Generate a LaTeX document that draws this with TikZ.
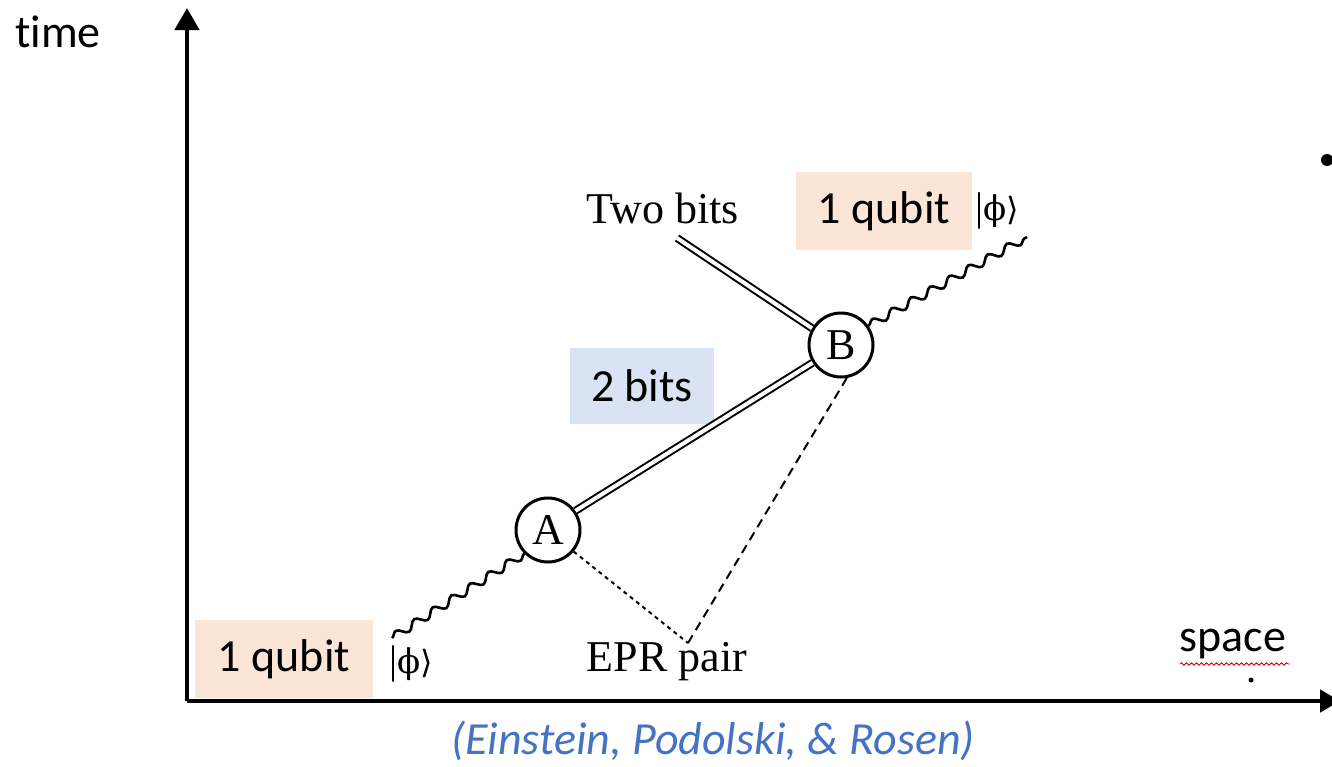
\documentclass[tikz,border=0pt]{standalone}
\usepackage{fontspec}
\setmainfont{Liberation Serif}
\newfontfamily\calfnt[Ligatures=NoCommon]{Carlito}
\newfontfamily\dejfnt{DejaVu Sans}
\newfontfamily\dejser{DejaVu Serif}
\usetikzlibrary{decorations.pathmorphing,arrows.meta}
\definecolor{peach}{HTML}{FBE5D6}
\definecolor{lblue}{HTML}{DAE3F3}
\definecolor{capblue}{HTML}{4472C4}
\newcommand{\ketphi}{|{\dejser\fontsize{34}{34}\selectfont ϕ}{\dejfnt\fontsize{32}{32}\selectfont ⟩}}
\begin{document}
\begin{tikzpicture}[x=1pt,y=-1pt,
  calt/.style={font=\calfnt\fontsize{46}{50}\selectfont, inner sep=0pt},
  sert/.style={font=\fontsize{44}{48}\selectfont, inner sep=0pt},
  ket/.style={font=\fontsize{40}{44}\selectfont, inner sep=0pt},
  party/.style={circle, draw, line width=3pt, minimum size=64pt, inner sep=0pt, font=\fontsize{44}{44}\selectfont},
  wavy/.style={line width=2.6pt, decorate, decoration={snake, amplitude=4pt, segment length=22pt}},
  dbl/.style={double, double distance=4pt, line width=2pt},
  axis/.style={line width=4.5pt}]
\useasboundingbox (0,0) rectangle (1332,766);
% axes
\coordinate (o) at (187,701);
\coordinate (ty) at (187,8);
\coordinate (sx) at (1340,701);
\draw[axis,-{Triangle[length=22pt,width=24pt]}] (o) -- (ty);
\draw[axis,-{Triangle[length=20pt,width=22pt]}] (o) -- (sx);
\node[calt] (time) at (58,32) {time};
\node[calt] (space) at (1233,644) {space};
\draw[red!80!black, line width=0.9pt, decorate, decoration={snake, amplitude=1.2pt, segment length=5pt}] (1180,664) -- (1290,664);
\fill (1251,680) circle (2.5pt);
\fill (1327,160) circle (6pt);
% boxes
\node[fill=peach, minimum width=176pt, minimum height=78pt, inner sep=0pt] (q1) at (884,211) {};
\node[calt] at (q1) {1 qubit};
\node[fill=peach, minimum width=178pt, minimum height=78pt, inner sep=0pt] (q0) at (284,659) {};
\node[calt] at (q0) {1 qubit};
\node[fill=lblue, minimum width=144pt, minimum height=76pt, inner sep=0pt] (b2) at (642,386) {};
\node[calt] at (b2) {2 bits};
% kets
\node[ket] (k1) at (997,211) {\ketphi};
\node[ket] (k0) at (411,664) {\ketphi};
% parties
\node[party] (A) at (548,530) {A};
\node[party] (B) at (841,345) {B};
\node[sert] (two) at (663,208) {Two bits};
\node[sert] (epr) at (667,662) {EPR pair};
% endpoints
\coordinate (w0) at (392,638);
\coordinate (w1) at (1027,237);
\coordinate (t0) at (677,238);
\coordinate (e0) at (688,643);
% connectors
\draw[wavy] (w0) -- (A.225);
\draw[wavy] (B.35) -- (w1);
\draw[dbl] (A.35) -- (B.212);
\draw[dbl] (t0) -- (B.150);
\draw[line width=2pt, dash pattern=on 4pt off 4pt] (A.-40) -- (e0);
\draw[line width=2pt, dash pattern=on 9pt off 6pt] (e0) -- (B.-80);
% caption
\node[font=\calfnt\itshape\fontsize{46}{50}\selectfont, text=capblue, inner sep=0pt] (cap) at (713,741) {(Einstein, Podolski, \& Rosen)};
\end{tikzpicture}
\end{document}
